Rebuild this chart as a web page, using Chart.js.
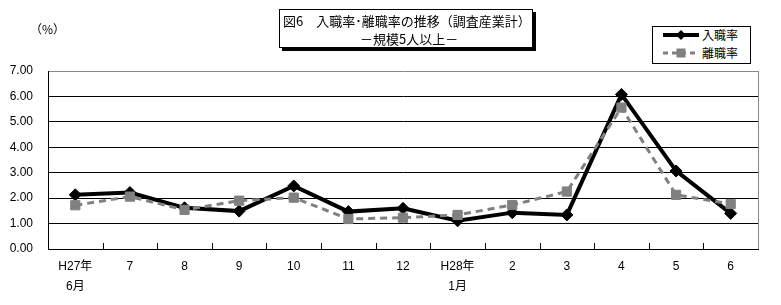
<!DOCTYPE html>
<html><head><meta charset="utf-8">
<script src="https://cdn.jsdelivr.net/npm/chart.js@4"></script>
<style>
body{margin:0;background:#fff;}
#wrap{position:relative;width:781px;height:305px;overflow:hidden;}
canvas{position:absolute;left:0;top:0;}
.t{position:absolute;font-family:'Noto Sans CJK JP',sans-serif;color:#000;white-space:nowrap;line-height:1;}
#tbox{position:absolute;left:279px;top:9px;width:252px;height:37px;border:1px solid #000;box-shadow:3px 3px 0 #000;background:#fff;}
#lbox{position:absolute;left:652px;top:26px;width:97px;height:36px;border:1px solid #000;background:#fff;}
</style></head>
<body>
<div id="wrap">
<canvas id="c" width="781" height="305"></canvas>
<div class="t" style="left:30px;top:23px;font-size:12px;">（%）</div>
<div id="tbox"></div>
<div class="t" style="left:283px;top:14px;font-size:13px;">図6　入職率･離職率の推移（調査産業計）</div>
<div class="t" style="left:360px;top:32px;font-size:13px;">－規模5人以上－</div>
<div id="lbox"></div>
<svg style="position:absolute;left:660px;top:28px;" width="42" height="32">
  <line x1="3" y1="7" x2="39" y2="7" stroke="#000" stroke-width="4"/>
  <polygon points="21,2 26,7 21,12 16,7" fill="#000"/>
  <line x1="3" y1="25" x2="39" y2="25" stroke="#808080" stroke-width="3" stroke-dasharray="5,4"/>
  <rect x="16.5" y="20.5" width="9" height="9" fill="#808080"/>
</svg>
<div class="t" style="left:702px;top:29px;font-size:12px;">入職率</div>
<div class="t" style="left:702px;top:47px;font-size:12px;">離職率</div>
</div>
<script>
const categories = [['H27年','6月'],'7','8','9','10','11','12',['H28年','1月'],'2','3','4','5','6'];
const hiringRate = [2.13,2.22,1.62,1.49,2.48,1.47,1.60,1.11,1.43,1.34,6.08,3.07,1.40];
const separationRate = [1.72,2.06,1.54,1.90,2.02,1.18,1.23,1.34,1.73,2.26,5.56,2.13,1.77];
const yTickValues = [0,1,2,3,4,5,6,7];

const fontFam = "'Liberation Sans', Arial, 'Noto Sans CJK JP', sans-serif";

const framePlugin = {
  id:'frame',
  afterDraw(chart){
    const {ctx, chartArea:a, scales:{x}} = chart;
    ctx.save();
    ctx.strokeStyle = '#888';
    ctx.lineWidth = 1;
    ctx.beginPath();
    ctx.moveTo(a.right+0.5, a.top);
    ctx.lineTo(a.right+0.5, a.bottom);
    ctx.stroke();
    ctx.strokeStyle = '#000';
    ctx.beginPath();
    for(let i=1;i<categories.length;i++){
      const px = Math.round((x.getPixelForValue(i-1)+x.getPixelForValue(i))/2)+0.5;
      ctx.moveTo(px, a.bottom);
      ctx.lineTo(px, a.bottom-6);
    }
    ctx.stroke();
    ctx.restore();
  }
};

new Chart(document.getElementById('c'), {
  type:'line',
  data:{
    labels:categories,
    datasets:[
      {label:'入職率', data:hiringRate, borderColor:'#000', backgroundColor:'#000', borderWidth:4,
       pointStyle:'rectRot', pointRadius:6, pointBorderWidth:1, pointBackgroundColor:'#000', pointBorderColor:'#000',
       tension:0, order:1},
      {label:'離職率', data:separationRate, borderColor:'#808080', backgroundColor:'#808080', borderWidth:3,
       borderDash:[7,5], pointStyle:'rect', pointRadius:6.5, pointBorderWidth:1, pointBackgroundColor:'#808080', pointBorderColor:'#808080',
       tension:0, order:0}
    ]
  },
  options:{
    responsive:false, animation:false, devicePixelRatio:1,
    layout:{padding:{top:71,right:23,left:0,bottom:0}},
    plugins:{legend:{display:false}, tooltip:{enabled:false}},
    scales:{
      y:{
        min:0, max:7,
        afterBuildTicks(s){ s.ticks = yTickValues.map(v=>({value:v})); },
        afterFit(s){ s.width = 48; },
        ticks:{callback:v=>Number(v).toFixed(2), font:{family:fontFam,size:12}, color:'#000', padding:15},
        grid:{color:c=>c.tick && c.tick.value===7?'#888':'#000', lineWidth:1, drawTicks:false},
        border:{color:'#000', width:1}
      },
      x:{
        offset:true,
        afterFit(s){ s.height = 56; },
        ticks:{font:{family:fontFam,size:12,lineHeight:1.67}, color:'#000', padding:8, maxRotation:0, autoSkip:false},
        grid:{drawOnChartArea:false, drawTicks:false, offset:true},
        border:{color:'#000', width:1}
      }
    }
  },
  plugins:[framePlugin]
});
</script>
</body></html>
